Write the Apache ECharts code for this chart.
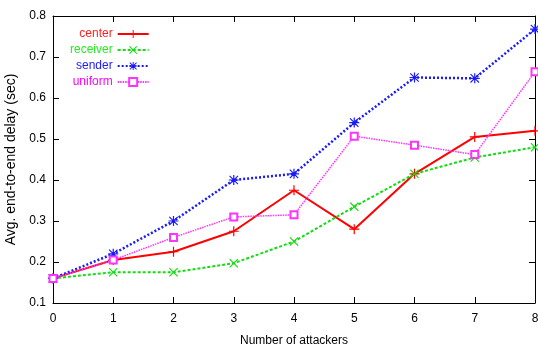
<!DOCTYPE html>
<html>
<head>
<meta charset="utf-8">
<script src="https://cdn.jsdelivr.net/npm/echarts@6/dist/echarts.min.js"></script>
<style>
  html, body { margin: 0; padding: 0; background: #fff; }
  #myChart { width: 538px; height: 354px; }
</style>
</head>
<body>
<div id="myChart"></div>
<script>
let myChart = echarts.init(document.getElementById('myChart'));

const attackers = ['0', '1', '2', '3', '4', '5', '6', '7', '8'];
const center = [0.16, 0.205, 0.225, 0.275, 0.375, 0.28, 0.415, 0.505, 0.52];
const receiver = [0.16, 0.175, 0.175, 0.197, 0.25, 0.335, 0.415, 0.455, 0.48];
const sender = [0.16, 0.22, 0.30, 0.40, 0.415, 0.54, 0.65, 0.648, 0.768];
const uniform = [0.16, 0.205, 0.26, 0.31, 0.315, 0.507, 0.485, 0.462, 0.664];

const font = '"Liberation Sans", Arial, sans-serif';

// gnuplot-like point shapes
const plusPath = 'path://M4.4,0H5.6V4.4H10V5.6H5.6V10H4.4V5.6H0V4.4H4.4Z';
const crossPath = 'path://M0,0.9L0.9,0L5,4.1L9.1,0L10,0.9L5.9,5L10,9.1L9.1,10L5,5.9L0.9,10L0,9.1L4.1,5Z';
const starPath = 'path://M4.4,0H5.6V4.4H10V5.6H5.6V10H4.4V5.6H0V4.4H4.4ZM1.2,0.4L5,4.2L8.8,0.4L9.6,1.2L5.8,5L9.6,8.8L8.8,9.6L5,5.8L1.2,9.6L0.4,8.8L4.2,5L0.4,1.2Z';

function makeSeries(name, data, color, type, width, symbol, size) {
  return {
    name: name,
    type: 'line',
    data: data,
    symbol: symbol,
    symbolSize: size,
    showAllSymbol: true,
    lineStyle: { color: color, width: width, type: type },
    itemStyle: { color: color, borderWidth: symbol === 'emptyRect' ? 1.2 : 0 },
    emphasis: { disabled: true },
    z: 3,
  };
}

let myChartOption = {
  animation: false,
  grid: { left: 53, top: 16, right: 3, bottom: 51, outerBoundsMode: 'none', containLabel: false },
  legend: {
    orient: 'vertical',
    left: 65,
    top: 23,
    align: 'right',
    itemWidth: 31,
    itemHeight: 10,
    itemGap: 4,
    selectedMode: false,
    textStyle: { fontFamily: font, fontSize: 12 },
    data: [
      { name: 'center', textStyle: { color: '#ff2020' } },
      { name: 'receiver', textStyle: { color: '#22ee22' } },
      { name: 'sender', textStyle: { color: '#2020ff' } },
      { name: 'uniform', textStyle: { color: '#ff00ff' } },
    ],
  },
  xAxis: [
    {
      type: 'category',
      data: attackers,
      boundaryGap: false,
      name: 'Number of attackers',
      nameLocation: 'middle',
      nameGap: 32,
      nameTextStyle: { fontFamily: font, fontSize: 12, color: '#000' },
      axisLine: { lineStyle: { color: '#000', width: 1 } },
      axisTick: { inside: true, length: 6, lineStyle: { color: '#000' } },
      axisLabel: { fontFamily: font, fontSize: 12, color: '#000', margin: 10 },
      splitLine: { show: false },
    },
    {
      type: 'category',
      data: attackers,
      boundaryGap: false,
      position: 'top',
      axisLine: { lineStyle: { color: '#000', width: 1 } },
      axisTick: { inside: true, length: 6, lineStyle: { color: '#000' } },
      axisLabel: { show: false },
    },
  ],
  yAxis: [
    {
      type: 'value',
      min: 0.1,
      max: 0.8,
      interval: 0.1,
      name: 'Avg. end-to-end delay (sec)',
      nameLocation: 'middle',
      nameGap: 29,
      nameTextStyle: { fontFamily: font, fontSize: 14, color: '#000' },
      axisLine: { show: true, lineStyle: { color: '#000', width: 1 } },
      axisTick: { show: true, inside: true, length: 6, lineStyle: { color: '#000' } },
      axisLabel: { fontFamily: font, fontSize: 12, color: '#000', margin: 7, formatter: function (v) { return v.toFixed(1); } },
      splitLine: { show: false },
    },
    {
      type: 'value',
      min: 0.1,
      max: 0.8,
      interval: 0.1,
      position: 'right',
      axisLine: { show: true, lineStyle: { color: '#000', width: 1 } },
      axisTick: { show: true, inside: true, length: 6, lineStyle: { color: '#000' } },
      axisLabel: { show: false },
      splitLine: { show: false },
    },
  ],
  series: [
    makeSeries('center', center, '#ff0000', 'solid', 2, plusPath, 10),
    makeSeries('receiver', receiver, '#11dd11', [3, 2], 2, crossPath, 9),
    makeSeries('sender', sender, '#1a1aff', [2, 2], 2.5, starPath, 10),
    makeSeries('uniform', uniform, '#ff33ff', [1.5, 1], 1.5, 'emptyRect', 7),
  ],
};

myChart.setOption(myChartOption);
</script>
</body>
</html>
